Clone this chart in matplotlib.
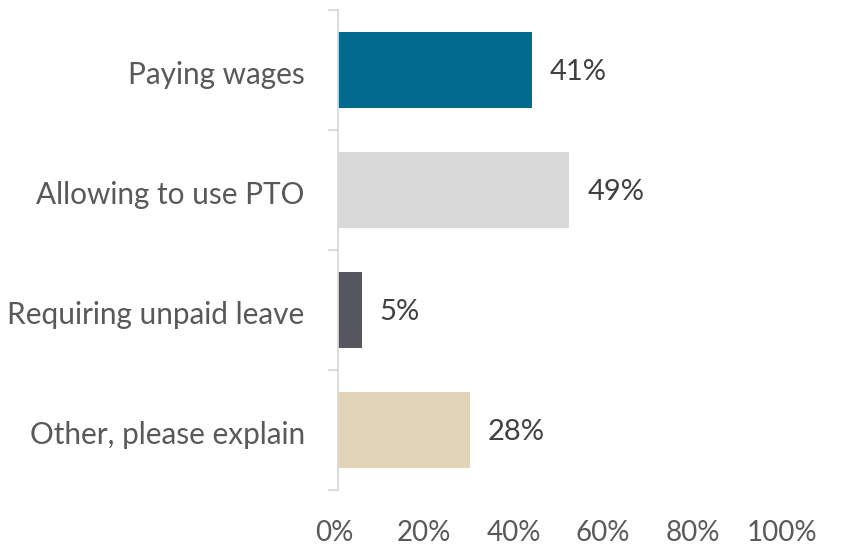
import matplotlib.pyplot as plt
from matplotlib.ticker import FixedLocator, NullLocator

# Survey responses: how employers handle the leave
categories = ["Paying wages", "Allowing to use PTO", "Requiring unpaid leave", "Other, please explain"]
shares = [41, 49, 5, 28]
colors = ["#006A8E", "#D9D9D9", "#55565E", "#E2D4B7"]
tick_values = [0, 20, 40, 60, 80, 100]

plt.rcParams["font.family"] = ["Lato", "DejaVu Sans"]

W, H = 859, 547
fig = plt.figure(figsize=(W / 100, H / 100), dpi=100)

# bar panel: 0% at x=338px, 100% at x=810px, rows from y=10px to y=490px
ax = fig.add_axes([338 / W, 1 - 490 / H, 472 / W, 480 / H])
y = list(range(len(categories)))
ax.barh(y, shares, height=0.63, color=colors)
ax.set_xlim(0, 100)
ax.set_ylim(len(categories) - 0.5, -0.5)

for yi, v in zip(y, shares):
    ax.text(v + 3.8, yi + 0.02, f"{v}%", va="center", ha="left", fontsize=21, color="#404040")

ax.set_yticks([yi + 0.02 for yi in y])
ax.set_yticklabels(categories, fontsize=21.4, color="#595959")
ax.tick_params(axis="y", which="major", length=0, pad=24)
ax.yaxis.set_minor_locator(FixedLocator([i - 0.5 for i in range(len(categories) + 1)]))
ax.tick_params(axis="y", which="minor", length=7, width=1.3, color="#D9D9D9")
ax.xaxis.set_major_locator(NullLocator())
for side in ["top", "right", "bottom"]:
    ax.spines[side].set_visible(False)
ax.spines["left"].set_color("#D9D9D9")
ax.spines["left"].set_linewidth(1.3)

# percentage scale along the bottom
sx = fig.add_axes([334.5 / W, 1 - 517 / H, 447.5 / W, 0.001])
sx.set_xlim(0, 100)
sx.set_xticks(tick_values)
sx.set_xticklabels([f"{t}%" for t in tick_values], fontsize=20, color="#595959")
sx.tick_params(axis="x", length=0, pad=2)
sx.set_yticks([])
for s in sx.spines.values():
    s.set_visible(False)
sx.patch.set_visible(False)

fig.savefig("out.png", dpi=100)
